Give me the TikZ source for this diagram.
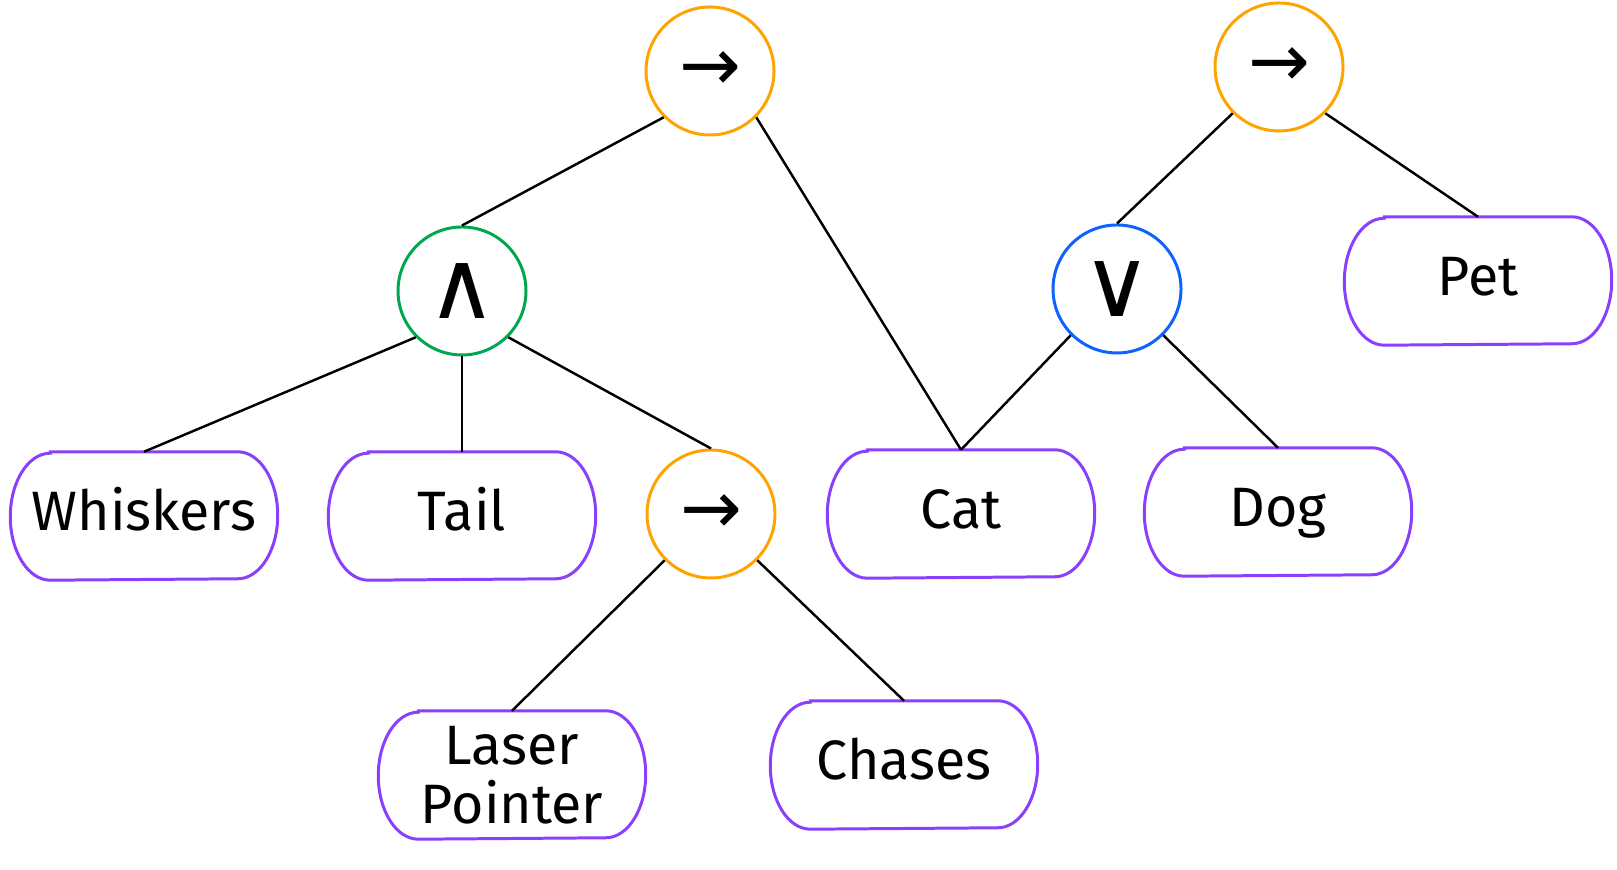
\documentclass[tikz,border=0pt]{standalone}
\usepackage{fontspec}
\setmainfont{Fira Sans}
\newfontfamily\symfont{DejaVu Sans}
\usetikzlibrary{calc}
\definecolor{oporange}{RGB}{255,163,0}
\definecolor{opgreen}{RGB}{0,166,80}
\definecolor{opblue}{RGB}{15,98,254}
\definecolor{leafpurple}{RGB}{138,63,252}

\begin{document}
\begin{tikzpicture}[
op/.style   = {circle, draw=#1, line width=0.85pt,
               minimum size=12.8mm, inner sep=0pt,
               font=\symfont\fontsize{21}{21}\selectfont},
logic/.style = {font=\symfont\fontsize{27}{27}\selectfont},
leaf/.style = {minimum width=26.6mm, minimum height=12.7mm,
               inner sep=0pt, align=center,
               font=\fontsize{15.8}{16.7}\selectfont},
word/.style = {leaf, text height=11pt, text depth=3pt},
link/.style = {draw, line width=0.7pt},
rim/.style  = {draw=leafpurple, line width=0.85pt},
                    ]
\useasboundingbox (0,0) rectangle (16.17,8.70);
% operators
\node[op=oporange]          (r1) at (7.10,7.99)  {→};
\node[op=oporange]          (r2) at (12.79,8.03) {→};
\node[op=opgreen, logic]    (a)  at (4.62,5.79)  {∧};
\node[op=opblue, logic]     (o)  at (11.17,5.81) {∨};
\node[op=oporange]          (r3) at (7.11,3.56)  {→};
% leaves
\node[word] (w) at (1.44,3.54)  {Whiskers};
\node[word] (t) at (4.62,3.54)  {Tail};
\node[word] (c) at (9.61,3.56)  {Cat};
\node[word] (d) at (12.78,3.58) {Dog};
\node[word] (p) at (14.78,5.89) {Pet};
\node[leaf] (l) at (5.12,0.95)  {Laser\\Pointer};
\node[word] (s) at (9.04,1.05)  {Chases};
% rounded outlines of the leaves
\foreach \n in {w,t,c,d,p,l,s}
    \draw[rim] ($(\n.north west)+(4mm,0)$) -- ($(\n.north east)+(-4mm,0)$)
        arc[start angle=90, end angle=-90, x radius=4mm, y radius=6.35mm]
        -- ($(\n.south west)+(4mm,0)$)
        arc[start angle=270, end angle=90, x radius=4mm, y radius=6.35mm]
        -- cycle;

\draw[link] (r1.south west) -- (a.north);
\draw[link] (r1.south east) -- (c.north);
\draw[link] (a.south west)  -- (w.north);
\draw[link] (a.south)       -- (t.north);
\draw[link] (a.south east)  -- (r3.north);
\draw[link] (r3.south west) -- (l.north);
\draw[link] (r3.south east) -- (s.north);
\draw[link] (r2.south west) -- (o.north);
\draw[link] (r2.south east) -- (p.north);
\draw[link] (o.south west)  -- (c.north);
\draw[link] (o.south east)  -- (d.north);
\end{tikzpicture}
\end{document}
